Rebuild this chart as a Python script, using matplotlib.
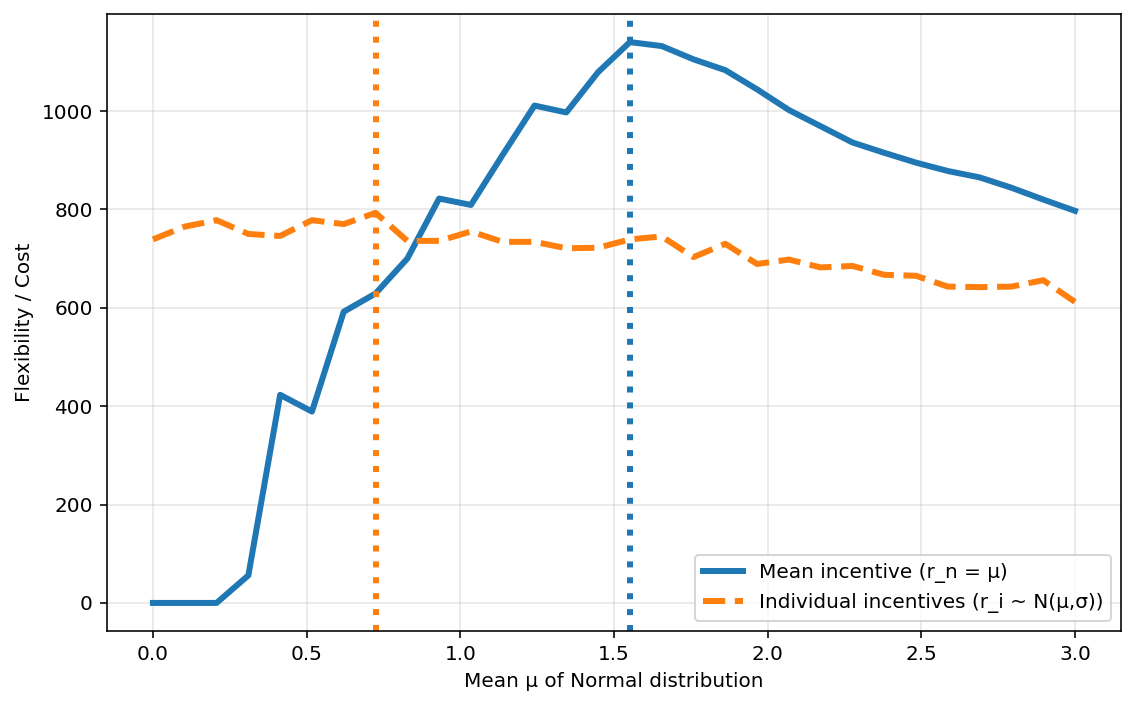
import numpy as np
import matplotlib
matplotlib.use('Agg')
import matplotlib.pyplot as plt

# mean of the normal distribution (30 steps from 0 to 3)
mu = np.linspace(0, 3, 30)

mean_incentive = [0, 0, 0, 56, 423, 389, 592, 629, 700, 822,
                  809, 911, 1011, 997, 1079, 1140, 1132, 1105, 1083, 1044,
                  1002, 969, 936, 915, 895, 878, 865, 844, 820, 797]

individual_incentives = [739, 765, 778, 750, 746, 778, 770, 793, 736, 736,
                         755, 734, 734, 721, 722, 739, 745, 703, 730, 689,
                         698, 682, 685, 667, 665, 643, 642, 643, 656, 612]

best_mu_mean = mu[15]
best_mu_indiv = mu[7]

fig = plt.figure(figsize=(7.896, 4.896), dpi=144)
ax = fig.add_axes([0.094, 0.105, 0.892, 0.875])

ax.plot(mu, mean_incentive, color='#1f77b4', lw=3, label='Mean incentive (r_n = μ)')
ax.plot(mu, individual_incentives, color='#ff7f0e', lw=3, ls='--',
        label='Individual incentives (r_i ~ N(μ,σ))')
ax.axvline(best_mu_mean, color='#1f77b4', lw=3, ls=':')
ax.axvline(best_mu_indiv, color='#ff7f0e', lw=3, ls=':')

ax.set_xlabel('Mean μ of Normal distribution')
ax.set_ylabel('Flexibility / Cost')
ax.grid(True, alpha=0.3)
ax.legend(loc='lower right')

fig.savefig('out.png', dpi=144)
